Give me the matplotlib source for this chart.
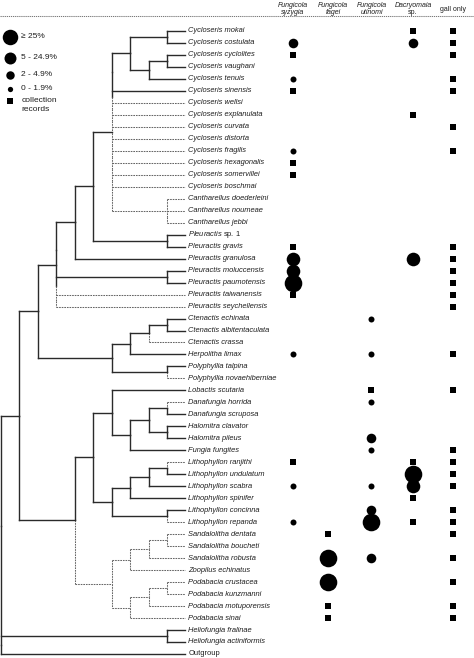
import matplotlib
matplotlib.use("Agg")
import matplotlib.pyplot as plt

plt.rcParams['font.family'] = ['Liberation Sans', 'DejaVu Sans']
plt.rcParams['mathtext.fontset'] = 'custom'
plt.rcParams['mathtext.it'] = 'Liberation Sans:italic'
plt.rcParams['mathtext.rm'] = 'Liberation Sans'

# ---------------- data ----------------
taxa = [
    "Cycloseris mokai", "Cycloseris costulata", "Cycloseris cyclolites", "Cycloseris vaughani",
    "Cycloseris tenuis", "Cycloseris sinensis", "Cycloseris wellsi", "Cycloseris explanulata",
    "Cycloseris curvata", "Cycloseris distorta", "Cycloseris fragilis", "Cycloseris hexagonalis",
    "Cycloseris somervillei", "Cycloseris boschmai", "Cantharellus doederleini",
    "Cantharellus noumeae", "Cantharellus jebbi", "Pleuractis sp. 1", "Pleuractis gravis",
    "Pleuractis granulosa", "Pleuractis moluccensis", "Pleuractis paumotensis",
    "Pleuractis taiwanensis", "Pleuractis seychellensis", "Ctenactis echinata",
    "Ctenactis albitentaculata", "Ctenactis crassa", "Herpolitha limax", "Polyphyllia talpina",
    "Polyphyllia novaehiberniae", "Lobactis scutaria", "Danafungia horrida",
    "Danafungia scruposa", "Halomitra clavator", "Halomitra pileus", "Fungia fungites",
    "Lithophyllon ranjithi", "Lithophyllon undulatum", "Lithophyllon scabra",
    "Lithophyllon spinifer", "Lithophyllon concinna", "Lithophyllon repanda",
    "Sandalolitha dentata", "Sandalolitha boucheti", "Sandalolitha robusta",
    "Zoopilus echinatus", "Podabacia crustacea", "Podabacia kunzmanni",
    "Podabacia motuporensis", "Podabacia sinai", "Heliofungia fralinae",
    "Heliofungia actiniformis", "Outgroup",
]

R = 5  # collection record (square); 1..4 = infestation classes
fungicola_syzygia = {
    "Cycloseris costulata": 2, "Cycloseris cyclolites": R, "Cycloseris tenuis": 1,
    "Cycloseris sinensis": R, "Cycloseris fragilis": 1, "Cycloseris hexagonalis": R,
    "Cycloseris somervillei": R, "Pleuractis gravis": R, "Pleuractis granulosa": 3,
    "Pleuractis moluccensis": 3, "Pleuractis paumotensis": 4, "Pleuractis taiwanensis": R,
    "Herpolitha limax": 1, "Lithophyllon ranjithi": R, "Lithophyllon scabra": 1,
    "Lithophyllon repanda": 1,
}
fungicola_fagei = {
    "Sandalolitha dentata": R, "Sandalolitha robusta": 4, "Podabacia crustacea": 4,
    "Podabacia motuporensis": R, "Podabacia sinai": R,
}
fungicola_utinomi = {
    "Ctenactis echinata": 1, "Herpolitha limax": 1, "Lobactis scutaria": R,
    "Danafungia horrida": 1, "Halomitra pileus": 2, "Fungia fungites": 1,
    "Lithophyllon scabra": 1, "Lithophyllon concinna": 2, "Lithophyllon repanda": 4,
    "Sandalolitha robusta": 2,
}
dacryomaia_sp = {
    "Cycloseris mokai": R, "Cycloseris costulata": 2, "Cycloseris explanulata": R,
    "Pleuractis granulosa": 3, "Lithophyllon ranjithi": R, "Lithophyllon undulatum": 4,
    "Lithophyllon scabra": 3, "Lithophyllon spinifer": R, "Lithophyllon repanda": R,
}
gall_only = {
    "Cycloseris mokai": R, "Cycloseris costulata": R, "Cycloseris cyclolites": R,
    "Cycloseris tenuis": R, "Cycloseris sinensis": R, "Cycloseris curvata": R,
    "Cycloseris fragilis": R, "Pleuractis gravis": R, "Pleuractis granulosa": R,
    "Pleuractis moluccensis": R, "Pleuractis paumotensis": R, "Pleuractis taiwanensis": R,
    "Pleuractis seychellensis": R, "Herpolitha limax": R, "Lobactis scutaria": R,
    "Fungia fungites": R, "Lithophyllon ranjithi": R, "Lithophyllon undulatum": R,
    "Lithophyllon scabra": R, "Lithophyllon concinna": R, "Lithophyllon repanda": R,
    "Sandalolitha dentata": R, "Sandalolitha robusta": R, "Podabacia crustacea": R,
    "Podabacia motuporensis": R, "Podabacia sinai": R,
}
columns = [fungicola_syzygia, fungicola_fagei, fungicola_utinomi, dacryomaia_sp, gall_only]
header_lines = [["Fungicola", "syzygia"], ["Fungicola", "fagei"], ["Fungicola", "utinomi"],
                ["Dacryomaia", "sp."], ["gall only"]]
header_italic = [[True, True], [True, True], [True, True], [True, False], [False]]

legend_labels = ["\u2265 25%", "5 - 24.9%", "2 - 4.9%", "0 - 1.9%", "collection\nrecords"]
legend_codes = [4, 3, 2, 1, R]


def T(name, dotted=False):
    return {"tip": name, "dotted": dotted}


def N(level, *kids, dotted=False):
    return {"level": level, "kids": kids, "dotted": dotted}


d = True
tree = N(0,
    N(1,
        N(2,
            N(3,
                N(4,
                    N(5,
                        N(6,
                            N(7,
                                N(9, T("Cycloseris mokai"), T("Cycloseris costulata")),
                                N(8, N(9, T("Cycloseris cyclolites"), T("Cycloseris vaughani")),
                                  T("Cycloseris tenuis"))),
                            T("Cycloseris sinensis"),
                            T("Cycloseris wellsi", d), T("Cycloseris explanulata", d),
                            T("Cycloseris curvata", d), T("Cycloseris distorta", d),
                            T("Cycloseris fragilis", d), T("Cycloseris hexagonalis", d),
                            T("Cycloseris somervillei", d), T("Cycloseris boschmai", d),
                            N(9, T("Cantharellus doederleini", d), T("Cantharellus noumeae", d),
                              T("Cantharellus jebbi", d), dotted=d)),
                        N(9, T("Pleuractis sp. 1"), T("Pleuractis gravis"))),
                    T("Pleuractis granulosa")),
                N(9, T("Pleuractis moluccensis"), T("Pleuractis paumotensis")),
                T("Pleuractis taiwanensis", d), T("Pleuractis seychellensis", d)),
            N(6,
                N(7,
                    N(8, N(9, T("Ctenactis echinata"), T("Ctenactis albitentaculata")),
                      T("Ctenactis crassa", d)),
                    T("Herpolitha limax")),
                N(9, T("Polyphyllia talpina"), T("Polyphyllia novaehiberniae", d)))),
        N(4,
            N(5,
                N(6,
                    T("Lobactis scutaria"),
                    N(7,
                        N(8, N(9, T("Danafungia horrida", d), T("Danafungia scruposa")),
                          N(9, T("Halomitra clavator"), T("Halomitra pileus"))),
                        T("Fungia fungites"))),
                N(6,
                    N(7,
                        N(8, N(9, T("Lithophyllon ranjithi", d), T("Lithophyllon undulatum")),
                          T("Lithophyllon scabra")),
                        T("Lithophyllon spinifer")),
                    N(9, T("Lithophyllon concinna"), T("Lithophyllon repanda", d)))),
            N(6,
                N(7,
                    N(8, N(9, T("Sandalolitha dentata", d), T("Sandalolitha boucheti", d), dotted=d),
                      T("Sandalolitha robusta", d), dotted=d),
                    T("Zoopilus echinatus", d), dotted=d),
                N(7,
                    N(8, N(9, T("Podabacia crustacea", d), T("Podabacia kunzmanni", d), dotted=d),
                      T("Podabacia motuporensis", d), dotted=d),
                    T("Podabacia sinai", d), dotted=d),
                dotted=d))),
    N(9, T("Heliofungia fralinae"), T("Heliofungia actiniformis")),
    T("Outgroup"))

# ---------------- layout ----------------
W, H = 474, 658
fig = plt.figure(figsize=(W / 100, H / 100), dpi=100)
ax = fig.add_axes([0, 0, 1, 1])
ax.set_xlim(0, W)
ax.set_ylim(H, 0)
ax.axis("off")

Y0, DY = 31.0, 11.98
row_y = {t: Y0 + i * DY for i, t in enumerate(taxa)}
TIP_X = 185.0
LABEL_X = 188.5
LEVEL_DX = 18.5
col_x = [293, 328, 371, 413, 453]
header_x = [293, 333, 372, 413, 453]

solid = dict(color="#2a2a2a", lw=1.0, solid_capstyle="projecting")
dotted = dict(color="#666666", lw=0.75, linestyle=(0, (1.6, 0.9)))


def draw(node):
    if "tip" in node:
        return TIP_X, row_y[node["tip"]]
    x = 1 + LEVEL_DX * node["level"]
    pts = [draw(k) for k in node["kids"]]
    ys = [p[1] for p in pts]
    n = len(ys)
    for i, (k, (cx, cy)) in enumerate(zip(node["kids"], pts)):
        st = dotted if k["dotted"] else solid
        ax.plot([x, cx], [cy, cy], **st)
        top = cy if i == 0 else (ys[i - 1] + cy) / 2
        bot = cy if i == n - 1 else (cy + ys[i + 1]) / 2
        ax.plot([x, x], [top, bot], **st)
    return x, (ys[0] + ys[-1]) / 2


draw(tree)

# tip labels
for t in taxa:
    if t == "Outgroup":
        lab, style = t, "normal"
    elif t.endswith("sp. 1"):
        lab, style = r"$\mathit{Pleuractis}$ sp. 1", "normal"
    else:
        lab, style = t, "italic"
    ax.text(LABEL_X, row_y[t], lab, fontsize=5.4, style=style, va="center", ha="left",
            color="#1e1e1e")

# markers
diam_px = {1: 6.0, 2: 9.6, 3: 13.6, 4: 17.6}
SQ_PX = 5.8


def s_of(px):
    return (px * 72 / 100) ** 2


for cx, col in zip(col_x, columns):
    for t, code in col.items():
        y = row_y[t]
        if code == R:
            ax.scatter([cx], [y], s=s_of(SQ_PX), marker="s", color="black", lw=0, zorder=3)
        else:
            ax.scatter([cx], [y], s=s_of(diam_px[code]), marker="o", color="black", lw=0,
                       zorder=3)

# headers
for hx, lines, its in zip(header_x, header_lines, header_italic):
    if len(lines) == 1:
        ax.text(hx, 9.5, lines[0], fontsize=5.0, ha="center", va="center",
                style="italic" if its[0] else "normal", color="#1e1e1e")
    else:
        for j, (ln, it) in enumerate(zip(lines, its)):
            ax.text(hx, 5.2 + j * 7.2, ln, fontsize=5.0, ha="center", va="center",
                    style="italic" if it else "normal", color="#1e1e1e")
ax.plot([0, W], [16.3, 16.3], color="#7a7a7a", lw=0.75, linestyle=(0, (1.2, 0.8)))

# legend
leg_y = [37.0, 57.5, 75.0, 88.5, 101.0]
for ly, code, lab in zip(leg_y, legend_codes, legend_labels):
    if code == R:
        ax.scatter([10.2], [ly], s=s_of(SQ_PX), marker="s", color="black", lw=0)
        ax.text(21.5, ly - 3.5, lab, fontsize=6.0, ha="left", va="top", color="#1e1e1e",
                linespacing=1.3)
    else:
        ax.scatter([10.0], [ly], s=s_of(diam_px[code] * 0.88), marker="o", color="black", lw=0)
        ax.text(21.5, ly, lab, fontsize=6.0, ha="left", va="center", color="#1e1e1e")

fig.savefig("out.png", dpi=100)
